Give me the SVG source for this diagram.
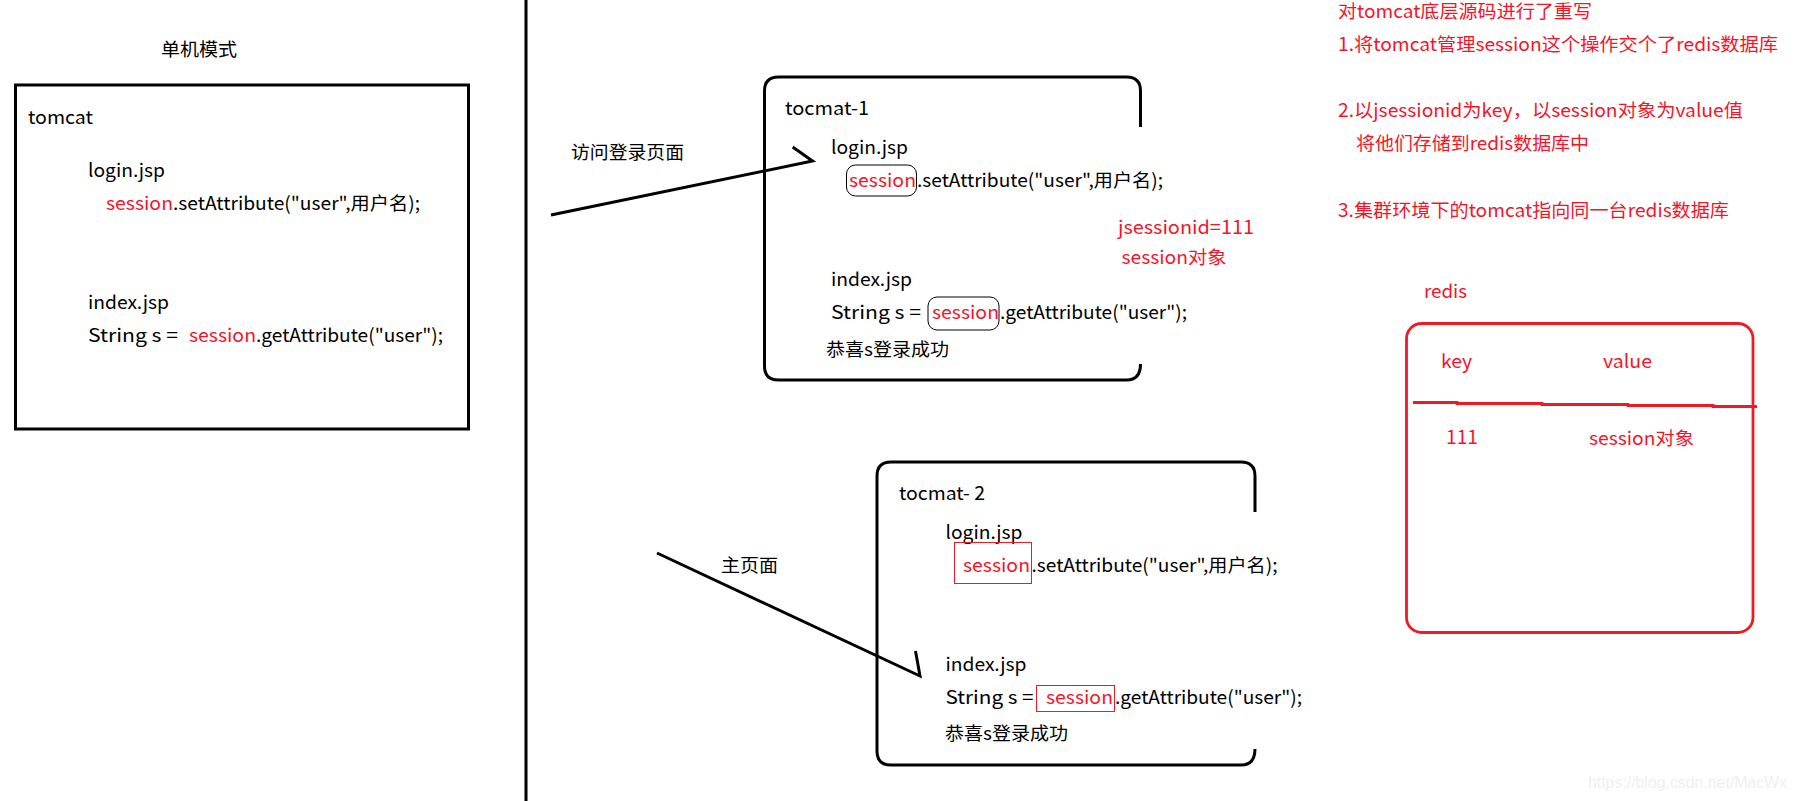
<svg xmlns="http://www.w3.org/2000/svg" width="1795" height="801" viewBox="0 0 1795 801">
<style>
text{font-family:"Noto Sans CJK SC","Noto Sans",sans-serif;font-size:18.7px;fill:#000}
text.r{fill:#f5142a}
.b{fill:none;stroke:#000;stroke-width:3}
.a{fill:none;stroke:#000;stroke-width:3}
.rl{fill:none;stroke:#ed1c24;stroke-width:2.8}
.t{fill:none;stroke:#000;stroke-width:1}
.t2{fill:none;stroke:#ed1c24;stroke-width:1}
text.w{font-family:"Liberation Sans",sans-serif;font-size:16.7px;fill:#efefef}
</style>
<rect width="1795" height="801" fill="#fff"/>
<g id="divider"><line class="b" x1="526" y1="0" x2="526" y2="801"/></g>
<g id="standalone">
<text x="161" y="56" textLength="76" lengthAdjust="spacingAndGlyphs">单机模式</text>
<rect class="b" x="15.5" y="85" width="453" height="344"/>
<text x="28" y="124" textLength="65" lengthAdjust="spacingAndGlyphs">tomcat</text>
<text x="88" y="177" textLength="77" lengthAdjust="spacingAndGlyphs">login.jsp</text>
<text class="r" x="106" y="210" textLength="67" lengthAdjust="spacingAndGlyphs">session</text>
<text x="173" y="210" textLength="247" lengthAdjust="spacingAndGlyphs">.setAttribute("user",用户名);</text>
<text x="88" y="309" textLength="81" lengthAdjust="spacingAndGlyphs">index.jsp</text>
<text x="88" y="342" textLength="90" lengthAdjust="spacingAndGlyphs">String s =</text>
<text class="r" x="189" y="342" textLength="67" lengthAdjust="spacingAndGlyphs">session</text>
<text x="256" y="342" textLength="187" lengthAdjust="spacingAndGlyphs">.getAttribute("user");</text>
</g>
<g id="tomcat-1">
<path class="b" d="M1140.5 127V91Q1140.5 77 1126.500 77H778.500Q764.500 77 764.500 91V366Q764.500 380 778.500 380H1126.500Q1140.500 380 1140.500 364"/>
<text x="785" y="115" textLength="84" lengthAdjust="spacingAndGlyphs">tocmat-1</text>
<text x="831" y="154" textLength="77" lengthAdjust="spacingAndGlyphs">login.jsp</text>
<rect class="t" x="846.500" y="165" width="70" height="31" rx="9"/>
<text class="r" x="849" y="187" textLength="67" lengthAdjust="spacingAndGlyphs">session</text>
<text x="917" y="187" textLength="246" lengthAdjust="spacingAndGlyphs">.setAttribute("user",用户名);</text>
<text x="831" y="286" textLength="81" lengthAdjust="spacingAndGlyphs">index.jsp</text>
<text x="831" y="319" textLength="90" lengthAdjust="spacingAndGlyphs">String s =</text>
<rect class="t" x="928" y="297" width="71" height="33" rx="9"/>
<text class="r" x="932" y="319" textLength="67" lengthAdjust="spacingAndGlyphs">session</text>
<text x="1000" y="319" textLength="187" lengthAdjust="spacingAndGlyphs">.getAttribute("user");</text>
<text x="826" y="356" textLength="123" lengthAdjust="spacingAndGlyphs">恭喜s登录成功</text>
</g>
<g id="session-note">
<text class="r" x="1118" y="234" textLength="136" lengthAdjust="spacingAndGlyphs">jsessionid=111</text>
<text class="r" x="1121.500" y="264" textLength="105" lengthAdjust="spacingAndGlyphs">session对象</text>
</g>
<g id="tomcat-2">
<path class="b" d="M1255 512V476Q1255 462 1241 462H891Q877 462 877 476V751Q877 765 891 765H1241Q1255 765 1255 749"/>
<text x="899" y="500" textLength="86" lengthAdjust="spacingAndGlyphs">tocmat- 2</text>
<text x="945.500" y="539" textLength="77" lengthAdjust="spacingAndGlyphs">login.jsp</text>
<rect class="t2" x="954.500" y="542.500" width="77" height="41"/>
<text class="r" x="963" y="572" textLength="67" lengthAdjust="spacingAndGlyphs">session</text>
<text x="1031.500" y="572" textLength="246" lengthAdjust="spacingAndGlyphs">.setAttribute("user",用户名);</text>
<text x="945.500" y="671" textLength="81" lengthAdjust="spacingAndGlyphs">index.jsp</text>
<text x="945.500" y="704" textLength="88" lengthAdjust="spacingAndGlyphs">String s =</text>
<rect class="t2" x="1036.500" y="685.500" width="78" height="26"/>
<text class="r" x="1046" y="704" textLength="67" lengthAdjust="spacingAndGlyphs">session</text>
<text x="1115" y="704" textLength="187" lengthAdjust="spacingAndGlyphs">.getAttribute("user");</text>
<text x="945" y="740" textLength="123" lengthAdjust="spacingAndGlyphs">恭喜s登录成功</text>
</g>
<g id="notes">
<text class="r" x="1338" y="18" textLength="254" lengthAdjust="spacingAndGlyphs">对tomcat底层源码进行了重写</text>
<text class="r" x="1338" y="51" textLength="440" lengthAdjust="spacingAndGlyphs">1.将tomcat管理session这个操作交个了redis数据库</text>
<text class="r" x="1338" y="117" textLength="405" lengthAdjust="spacingAndGlyphs">2.以jsessionid为key，以session对象为value值</text>
<text class="r" x="1356" y="150" textLength="233" lengthAdjust="spacingAndGlyphs">将他们存储到redis数据库中</text>
<text class="r" x="1338" y="217" textLength="391" lengthAdjust="spacingAndGlyphs">3.集群环境下的tomcat指向同一台redis数据库</text>
</g>
<g id="redis">
<text class="r" x="1424" y="298" textLength="43" lengthAdjust="spacingAndGlyphs">redis</text>
<rect class="rl" x="1406.500" y="323.500" width="346.500" height="309" rx="15"/>
<path class="rl" d="M1413 402.500H1457V403.500H1542V404.500H1628V405.500H1713V406.500H1757"/>
<text class="r" x="1441" y="368" textLength="31" lengthAdjust="spacingAndGlyphs">key</text>
<text class="r" x="1603" y="368" textLength="49" lengthAdjust="spacingAndGlyphs">value</text>
<text class="r" x="1446" y="444" textLength="32" lengthAdjust="spacingAndGlyphs">111</text>
<text class="r" x="1589" y="445" textLength="105" lengthAdjust="spacingAndGlyphs">session对象</text>
</g>
<g id="connectors">
<path class="a" d="M551 215L812.500 161L792.700 147"/>
<path class="a" d="M657 553L920 676L915.500 651"/>
</g>
<g id="labels">
<text x="571" y="159" textLength="113" lengthAdjust="spacingAndGlyphs">访问登录页面</text>
<text x="721" y="572" textLength="57" lengthAdjust="spacingAndGlyphs">主页面</text>
</g>
<text class="w" x="1588" y="788" textLength="199" lengthAdjust="spacingAndGlyphs">https://blog.csdn.net/MacWx</text>
</svg>
